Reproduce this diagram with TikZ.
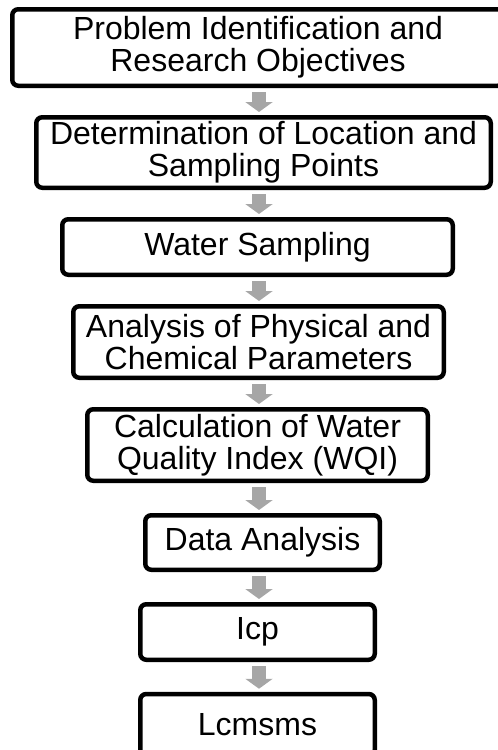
\documentclass[tikz,border=0pt]{standalone}
\usepackage{fontspec}
\setmainfont{Liberation Sans}
\usetikzlibrary{arrows.meta}
\definecolor{arrowgray}{HTML}{A6A6A6}

\begin{document}
\begin{tikzpicture}[x=1pt, y=-1pt, line join=round,
  stage/.style={draw, line width=4.5pt, rounded corners=6pt, align=center,
    inner sep=0pt, font=\fontsize{32}{32}\selectfont},
  flow/.style={draw=arrowgray, line width=14pt,
    -{Triangle[width=27pt,length=10pt]}, shorten <=4pt, shorten >=3pt}]
\clip (0,0) rectangle (498,750);
\coordinate (axis) at (259,0);
\node[stage, minimum width=491.5pt, minimum height=76.5pt] (ident) at (258,47.5)
  {Problem Identification and\\Research Objectives};
\node[stage, minimum width=454.5pt, minimum height=70.5pt] (locate) at (263.5,152.5)
  {Determination of Location and\\Sampling Points};
\node[stage, minimum width=390.5pt, minimum height=55.5pt] (sampling) at (257.5,247)
  {Water Sampling};
\node[stage, minimum width=370.5pt, minimum height=71.5pt] (params) at (258.5,342)
  {Analysis of Physical and\\Chemical Parameters};
\node[stage, minimum width=340.5pt, minimum height=71.5pt] (wqi) at (257.5,445)
  {Calculation of Water\\Quality Index (WQI)};
\node[stage, minimum width=234.5pt, minimum height=54.5pt] (data) at (262.5,542.5)
  {Data Analysis};
\node[stage, minimum width=234.5pt, minimum height=55.5pt] (icp) at (257.5,632)
  {Icp};
\node[stage, minimum width=234.5pt, minimum height=62pt] (lcms) at (257.5,725)
  {Lcmsms};
% block arrows between stages
\draw[flow] (ident.south -| axis) -- (locate.north -| axis);
\draw[flow] (locate.south -| axis) -- (sampling.north -| axis);
\draw[flow] (sampling.south -| axis) -- (params.north -| axis);
\draw[flow] (params.south -| axis) -- (wqi.north -| axis);
\draw[flow] (wqi.south -| axis) -- (data.north -| axis);
\draw[flow] (data.south -| axis) -- (icp.north -| axis);
\draw[flow] (icp.south -| axis) -- (lcms.north -| axis);
\end{tikzpicture}
\end{document}
